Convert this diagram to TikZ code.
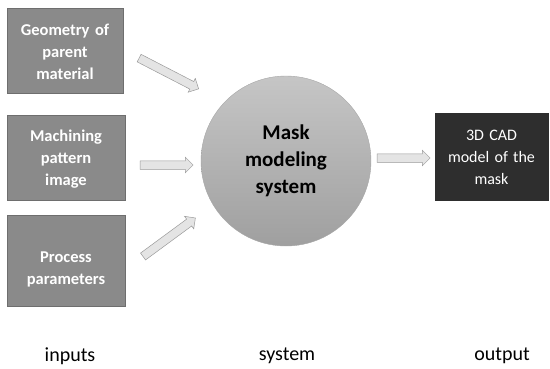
\documentclass[tikz,border=0pt]{standalone}
\usepackage{fontspec}
\setmainfont{Carlito}
\usetikzlibrary{shapes.arrows,shadings}
\definecolor{boxgray}{HTML}{8A8A8A}
\definecolor{outgray}{HTML}{2E2E2E}
\definecolor{arrfill}{HTML}{E4E4E4}
\definecolor{arrline}{HTML}{9A9A9A}
\begin{document}
\begin{tikzpicture}[x=1pt,y=-1pt,
  inbox/.style={rectangle, fill=boxgray, draw=boxgray!80!black, line width=0.4pt, inner sep=0pt},
  intext/.style={text=white, font=\fontsize{16.5}{22}\selectfont\bfseries, align=center, inner sep=0pt},
  outbox/.style={rectangle, fill=outgray, draw=outgray, inner sep=0pt},
  outtext/.style={text=white, font=\fontsize{16}{22}\selectfont, align=center, inner sep=0pt},
  sysball/.style={circle, minimum size=170pt, inner sep=0pt, draw=gray!70,
    top color=gray!45, bottom color=gray!75, text=black,
    font=\fontsize{21}{27}\selectfont\bfseries, align=center},
  blockarr/.style={shape=single arrow, inner xsep=0pt, inner ysep=4pt, minimum width=15pt,
    single arrow head extend=3.5pt, single arrow head indent=0pt,
    fill=arrfill, draw=arrline, line width=0.5pt},
  caption/.style={font=\fontsize{20}{24}\selectfont, text=black, inner sep=0pt}]
\useasboundingbox (0,0) rectangle (550,368);
% input boxes
\node[inbox, minimum width=116pt, minimum height=85pt] (geo) at (65,50.5) {};
\node[intext, text width=112pt] (geot) at (65,52) {Geometry of\\parent\\material};
\node[inbox, minimum width=118pt, minimum height=85pt] (mach) at (66,157.5) {};
\node[intext, text width=112pt] (macht) at (66,159) {Machining\\pattern\\image};
\node[inbox, minimum width=118pt, minimum height=91pt] (proc) at (66,260.5) {};
\node[intext, text width=112pt] (proct) at (66,269.5) {Process\\parameters};
% system
\node[sysball] (sys) at (286,161) {Mask\\modeling\\system};
% output
\node[outbox, minimum width=113pt, minimum height=87pt] (out) at (491.5,156.5) {};
\node[outtext, text width=108pt] (outt) at (491.5,157) {3D CAD\\model of the\\mask};
% arrow end coordinates
\coordinate (a1s) at (137,57);
\coordinate (a1e) at (197,88);
\coordinate (a2s) at (138,165);
\coordinate (a2e) at (191,165);
\coordinate (a3s) at (141,258);
\coordinate (a3e) at (194,219);
\coordinate (a4s) at (375,158);
\coordinate (a4e) at (428,158);
\path (a1s) -- node[blockarr, sloped, minimum height=67pt] (arr1) {} (a1e);
\path (a2s) -- node[blockarr, sloped, minimum height=53pt] (arr2) {} (a2e);
\path (a3s) -- node[blockarr, sloped, minimum height=65pt] (arr3) {} (a3e);
\path (a4s) -- node[blockarr, sloped, minimum height=53pt] (arr4) {} (a4e);
% captions
\node[caption] (cin) at (70,356) {inputs};
\node[caption] (csys) at (287,356) {system};
\node[caption] (cout) at (502,356) {output};
\end{tikzpicture}
\end{document}
